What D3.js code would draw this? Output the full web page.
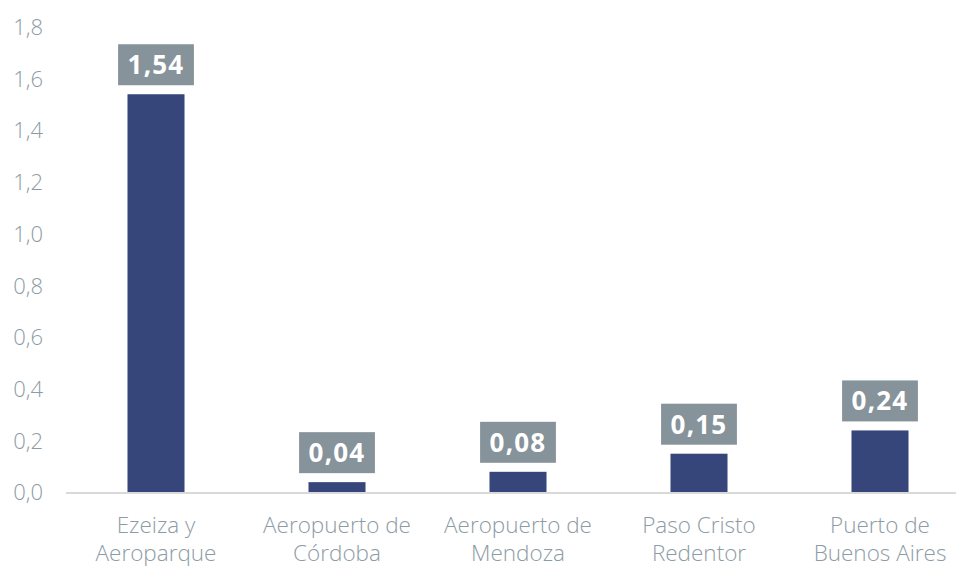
<!DOCTYPE html>
<html>
<head>
<meta charset="utf-8">
<script src="https://cdn.jsdelivr.net/npm/d3@7"></script>
<style>
  html, body { margin: 0; padding: 0; background: #fff; }
  svg { display: block; }
</style>
</head>
<body>
<svg id="chart" width="956" height="567"></svg>
<script>
// Categories (two-line labels) and values
const categories = [
  ["Ezeiza y", "Aeroparque"],
  ["Aeropuerto de", "Córdoba"],
  ["Aeropuerto de", "Mendoza"],
  ["Paso Cristo", "Redentor"],
  ["Puerto de", "Buenos Aires"]
];
const values = [1.54, 0.04, 0.08, 0.15, 0.24];
const yTicks = [0, 0.2, 0.4, 0.6, 0.8, 1.0, 1.2, 1.4, 1.6, 1.8];

const svg = d3.select("#chart");
const fmt1 = d => d.toFixed(1).replace(".", ",");
const fmt2 = d => d.toFixed(2).replace(".", ",");

const x = d3.scaleBand()
  .domain(d3.range(categories.length))
  .range([65.5, 970.5])
  .paddingInner(0.685)
  .paddingOuter(0.3425);

const y = d3.scaleLinear().domain([0, 1.8]).range([492.5, 27]);

const fontMain = "'Open Sans', Roboto, sans-serif";
const textGray = "#8d9ba4";

// Y tick labels
svg.append("g")
  .selectAll("text")
  .data(yTicks)
  .join("text")
  .attr("x", 43)
  .attr("y", d => y(d))
  .attr("dy", "0.36em")
  .attr("text-anchor", "end")
  .attr("font-family", fontMain)
  .attr("font-weight", 300)
  .attr("font-size", 22)
  .attr("fill", textGray)
  .text(fmt1);

// Bars
svg.append("g")
  .selectAll("rect")
  .data(values)
  .join("rect")
  .attr("x", (d, i) => x(i))
  .attr("y", d => y(d))
  .attr("width", x.bandwidth())
  .attr("height", d => y(0) - y(d))
  .attr("fill", "#37467a");

// Baseline
svg.append("line")
  .attr("x1", 66).attr("x2", 956)
  .attr("y1", y(0) + 0.5).attr("y2", y(0) + 0.5)
  .attr("stroke", "#d9d9d9")
  .attr("stroke-width", 2);

// Value labels in gray boxes
const labels = svg.append("g")
  .selectAll("g")
  .data(values)
  .join("g")
  .attr("transform", (d, i) => `translate(${x(i) + x.bandwidth() / 2},${y(d) - 9})`);

labels.append("text")
  .attr("text-anchor", "middle")
  .attr("y", -11)
  .attr("font-family", fontMain)
  .attr("font-weight", 700)
  .attr("font-size", 26)
  .attr("letter-spacing", 1.2)
  .attr("fill", "#fff")
  .text(fmt2);

labels.each(function () {
  const g = d3.select(this);
  const w = g.select("text").node().getComputedTextLength();
  g.insert("rect", "text")
    .attr("x", -w / 2 - 9.5)
    .attr("y", -41)
    .attr("width", w + 19)
    .attr("height", 41)
    .attr("fill", "#87939b");
});

// Category labels
const cat = svg.append("g")
  .selectAll("text")
  .data(categories)
  .join("text")
  .attr("x", (d, i) => x(i) + x.bandwidth() / 2)
  .attr("text-anchor", "middle")
  .attr("font-family", fontMain)
  .attr("font-weight", 300)
  .attr("font-size", 22.5)
  .attr("fill", textGray);

cat.selectAll("tspan")
  .data(d => d)
  .join("tspan")
  .attr("x", function () { return d3.select(this.parentNode).attr("x"); })
  .attr("y", (d, j) => 533 + j * 28)
  .text(d => d);
</script>
</body>
</html>
